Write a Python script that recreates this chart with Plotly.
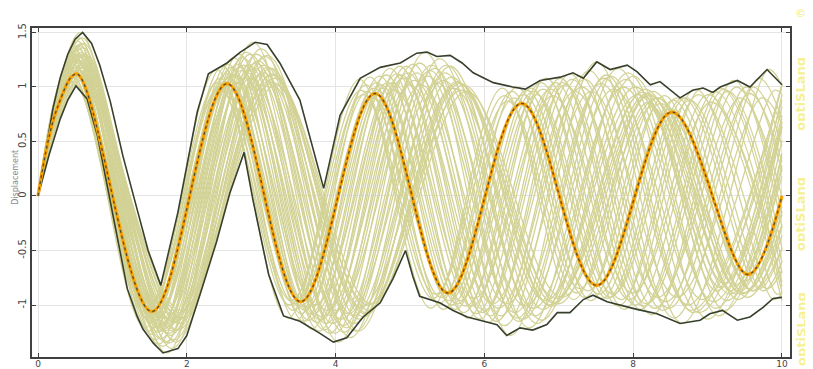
import plotly.graph_objects as go

# ---------------- axis ticks ----------------
x_ticks = [0, 2, 4, 6, 8, 10]
y_ticks = [-1, -0.5, 0, 0.5, 1, 1.5]
y_tick_text = ["-1", "-0.5", "0", "0.5", "1", "1.5"]

# ---------------- sampled designs (time, displacement at start/extrema/end) ----------------
d01_t = [0, 0.24, 0.48, 1.44, 2.40, 3.36, 4.32, 5.28, 6.24, 7.20, 8.16, 9.12, 10]
d01_y = [0, 0.89, 1.26, -1.21, 1.16, -1.12, 1.07, -1.03, 0.99, -0.95, 0.91, -0.87, 0.82]
d02_t = [0, 0.24, 0.49, 1.46, 2.43, 3.40, 4.37, 5.34, 6.31, 7.28, 8.25, 9.22, 10]
d02_y = [0, 0.74, 1.05, -1.02, 0.99, -0.96, 0.93, -0.90, 0.87, -0.85, 0.82, -0.80, 0.64]
d03_t = [0, 0.25, 0.49, 1.47, 2.45, 3.43, 4.41, 5.39, 6.37, 7.35, 8.33, 9.31, 10]
d03_y = [0, 0.81, 1.15, -1.12, 1.08, -1.05, 1.02, -0.99, 0.96, -0.93, 0.90, -0.87, 0.51]
d04_t = [0, 0.25, 0.50, 1.49, 2.48, 3.47, 4.46, 5.45, 6.44, 7.43, 8.42, 9.41, 10]
d04_y = [0, 0.92, 1.30, -1.24, 1.19, -1.14, 1.09, -1.04, 1.00, -0.96, 0.92, -0.87, 0.26]
d05_t = [0, 0.25, 0.5, 1.5, 2.5, 3.5, 4.5, 5.5, 6.5, 7.5, 8.5, 9.5, 10]
d05_y = [0, 0.72, 1.02, -0.99, 0.96, -0.93, 0.90, -0.88, 0.85, -0.82, 0.80, -0.78, 0]
d06_t = [0, 0.25, 0.51, 1.52, 2.53, 3.54, 4.55, 5.56, 6.57, 7.58, 8.59, 9.60, 10]
d06_y = [0, 0.85, 1.20, -1.16, 1.12, -1.08, 1.04, -1.00, 0.97, -0.94, 0.90, -0.87, -0.28]
d07_t = [0, 0.26, 0.51, 1.53, 2.55, 3.57, 4.59, 5.61, 6.63, 7.65, 8.67, 9.69, 10]
d07_y = [0, 0.95, 1.34, -1.27, 1.21, -1.15, 1.10, -1.04, 0.99, -0.94, 0.90, -0.85, -0.48]
d08_t = [0, 0.26, 0.52, 1.55, 2.58, 3.61, 4.64, 5.67, 6.70, 7.73, 8.76, 9.79, 10]
d08_y = [0, 0.79, 1.12, -1.09, 1.05, -1.02, 0.99, -0.96, 0.93, -0.90, 0.88, -0.85, -0.68]
d09_t = [0, 0.26, 0.52, 1.56, 2.60, 3.64, 4.68, 5.72, 6.76, 7.80, 8.84, 9.88, 10]
d09_y = [0, 0.88, 1.25, -1.21, 1.18, -1.14, 1.11, -1.07, 1.04, -1.01, 0.98, -0.95, -0.89]
d10_t = [0, 0.26, 0.53, 1.58, 2.63, 3.68, 4.73, 5.78, 6.83, 7.88, 8.93, 10]
d10_y = [0, 0.98, 1.38, -1.32, 1.27, -1.22, 1.17, -1.12, 1.08, -1.04, 0.99, -0.96]
d11_t = [0, 0.27, 0.53, 1.59, 2.65, 3.71, 4.77, 5.83, 6.89, 7.95, 9.01, 10]
d11_y = [0, 0.83, 1.18, -1.14, 1.11, -1.08, 1.04, -1.01, 0.98, -0.95, 0.93, -0.88]
d12_t = [0, 0.27, 0.54, 1.61, 2.68, 3.75, 4.82, 5.89, 6.96, 8.03, 9.10, 10]
d12_y = [0, 0.92, 1.30, -1.25, 1.21, -1.16, 1.12, -1.08, 1.04, -1.00, 0.96, -0.83]
d13_t = [0, 0.27, 0.54, 1.62, 2.70, 3.78, 4.86, 5.94, 7.02, 8.10, 9.18, 10]
d13_y = [0, 1.00, 1.42, -1.36, 1.30, -1.24, 1.19, -1.13, 1.08, -1.04, 0.99, -0.71]
d14_t = [0, 0.27, 0.55, 1.64, 2.73, 3.82, 4.91, 6.00, 7.09, 8.18, 9.27, 10]
d14_y = [0, 0.86, 1.22, -1.18, 1.15, -1.11, 1.08, -1.05, 1.02, -0.99, 0.96, -0.48]
d15_t = [0, 0.28, 0.55, 1.65, 2.75, 3.85, 4.95, 6.05, 7.15, 8.25, 9.35, 10]
d15_y = [0, 0.95, 1.35, -1.31, 1.27, -1.23, 1.19, -1.16, 1.12, -1.09, 1.06, -0.29]
d16_t = [0, 0.28, 0.56, 1.67, 2.78, 3.89, 5.00, 6.11, 7.22, 8.33, 9.44, 10]
d16_y = [0, 0.81, 1.15, -1.12, 1.08, -1.05, 1.02, -0.99, 0.96, -0.93, 0.90, -0.01]
d17_t = [0, 0.28, 0.56, 1.68, 2.80, 3.92, 5.04, 6.16, 7.28, 8.40, 9.52, 10]
d17_y = [0, 1.03, 1.45, -1.38, 1.32, -1.26, 1.21, -1.15, 1.10, -1.05, 1.00, 0.22]
d18_t = [0, 0.28, 0.57, 1.70, 2.83, 3.96, 5.09, 6.22, 7.35, 8.48, 9.61, 10]
d18_y = [0, 0.90, 1.28, -1.24, 1.20, -1.17, 1.13, -1.10, 1.07, -1.03, 1.00, 0.46]
d19_t = [0, 0.29, 0.57, 1.71, 2.85, 3.99, 5.13, 6.27, 7.41, 8.55, 9.69, 10]
d19_y = [0, 0.98, 1.38, -1.34, 1.30, -1.26, 1.22, -1.19, 1.15, -1.12, 1.08, 0.70]
d20_t = [0, 0.29, 0.58, 1.73, 2.89, 4.04, 5.20, 6.35, 7.51, 8.66, 9.82, 10]
d20_y = [0, 1.06, 1.50, -1.44, 1.41, -1.34, 1.32, -1.28, 1.23, -1.17, 1.16, 1.01]
d21_t = [0, 0.29, 0.58, 1.75, 2.91, 4.08, 5.24, 6.41, 7.57, 8.74, 9.90, 10]
d21_y = [0, 0.88, 1.24, -1.20, 1.17, -1.13, 1.10, -1.07, 1.03, -1.00, 0.97, 0.93]
d22_t = [0, 0.29, 0.59, 1.76, 2.94, 4.11, 5.29, 6.46, 7.64, 8.81, 10]
d22_y = [0, 0.99, 1.40, -1.35, 1.30, -1.25, 1.20, -1.15, 1.11, -1.07, 1.03]
d23_t = [0, 0.30, 0.59, 1.78, 2.96, 4.15, 5.33, 6.52, 7.70, 8.89, 10]
d23_y = [0, 0.93, 1.32, -1.28, 1.24, -1.21, 1.17, -1.13, 1.10, -1.07, 1.02]
d24_t = [0, 0.30, 0.60, 1.80, 3.00, 4.20, 5.40, 6.60, 7.80, 9.00, 10]
d24_y = [0, 1.03, 1.45, -1.40, 1.35, -1.30, 1.26, -1.21, 1.17, -1.13, 0.93]
d25_t = [0, 0.30, 0.61, 1.82, 3.03, 4.24, 5.45, 6.66, 7.87, 9.08, 10]
d25_y = [0, 0.85, 1.20, -1.16, 1.13, -1.10, 1.06, -1.03, 1.00, -0.97, 0.69]
d26_t = [0, 0.31, 0.61, 1.83, 3.05, 4.27, 5.49, 6.71, 7.93, 9.15, 10]
d26_y = [0, 0.96, 1.36, -1.32, 1.28, -1.24, 1.20, -1.17, 1.13, -1.10, 0.63]
d27_t = [0, 0.31, 0.62, 1.85, 3.08, 4.31, 5.54, 6.77, 8.00, 9.23, 10]
d27_y = [0, 0.99, 1.40, -1.34, 1.29, -1.24, 1.19, -1.14, 1.10, -1.05, 0.39]
d28_t = [0, 0.31, 0.62, 1.85, 3.09, 4.32, 5.56, 6.79, 8.03, 9.26, 10]
d28_y = [0, 0.91, 1.28, -1.23, 1.18, -1.13, 1.09, -1.04, 1.00, -0.96, 0.28]
d29_t = [0, 0.31, 0.63, 1.88, 3.13, 4.38, 5.63, 6.88, 8.13, 9.38, 10]
d29_y = [0, 0.92, 1.30, -1.23, 1.17, -1.11, 1.05, -1.00, 0.95, -0.90, 0.0]
d30_t = [0, 0.32, 0.63, 1.89, 3.15, 4.41, 5.67, 6.93, 8.19, 9.45, 10]
d30_y = [0, 0.86, 1.22, -1.17, 1.12, -1.07, 1.03, -0.98, 0.94, -0.90, -0.17]
d31_t = [0, 0.32, 0.64, 1.91, 3.18, 4.45, 5.72, 6.99, 8.26, 9.53, 10]
d31_y = [0, 0.81, 1.15, -1.12, 1.08, -1.05, 1.02, -0.99, 0.96, -0.93, -0.36]
d32_t = [0, 0.32, 0.64, 1.92, 3.20, 4.48, 5.76, 7.04, 8.32, 9.60, 10]
d32_y = [0, 0.76, 1.08, -1.05, 1.02, -0.99, 0.96, -0.93, 0.90, -0.87, -0.48]
e01_t = [0, 0.24, 0.48, 1.45, 2.41, 3.38, 4.34, 5.31, 6.27, 7.24, 8.20, 9.17, 10]
e01_y = [0, 0.78, 1.10, -1.07, 1.04, -1.00, 0.97, -0.94, 0.92, -0.89, 0.86, -0.84, 0.74]
e02_t = [0, 0.25, 0.49, 1.48, 2.46, 3.45, 4.43, 5.42, 6.40, 7.39, 8.37, 9.36, 10]
e02_y = [0, 0.76, 1.08, -1.05, 1.02, -0.99, 0.96, -0.93, 0.90, -0.87, 0.85, -0.82, 0.36]
e03_t = [0, 0.25, 0.50, 1.51, 2.51, 3.52, 4.52, 5.53, 6.53, 7.54, 8.54, 9.55, 10]
e03_y = [0, 0.79, 1.12, -1.09, 1.05, -1.02, 0.99, -0.96, 0.93, -0.90, 0.88, -0.85, -0.14]
e04_t = [0, 0.26, 0.51, 1.54, 2.56, 3.59, 4.61, 5.64, 6.66, 7.69, 8.71, 9.74, 10]
e04_y = [0, 0.81, 1.15, -1.12, 1.08, -1.05, 1.02, -0.99, 0.96, -0.93, 0.90, -0.87, -0.60]
e05_t = [0, 0.26, 0.52, 1.57, 2.61, 3.66, 4.70, 5.75, 6.79, 7.84, 8.88, 9.93, 10]
e05_y = [0, 0.83, 1.18, -1.14, 1.11, -1.08, 1.04, -1.01, 0.98, -0.95, 0.93, -0.90, -0.88]
e06_t = [0, 0.27, 0.53, 1.60, 2.66, 3.73, 4.79, 5.86, 6.92, 7.99, 9.05, 10]
e06_y = [0, 0.78, 1.10, -1.07, 1.04, -1.00, 0.97, -0.94, 0.92, -0.89, 0.86, -0.79]
e07_t = [0, 0.27, 0.54, 1.63, 2.71, 3.80, 4.88, 5.97, 7.05, 8.14, 9.22, 10]
e07_y = [0, 0.88, 1.25, -1.21, 1.18, -1.14, 1.11, -1.07, 1.04, -1.01, 0.98, -0.61]
e08_t = [0, 0.28, 0.55, 1.66, 2.76, 3.87, 4.97, 6.08, 7.18, 8.29, 9.39, 10]
e08_y = [0, 0.90, 1.28, -1.24, 1.20, -1.17, 1.13, -1.10, 1.07, -1.03, 1.00, -0.16]
e09_t = [0, 0.28, 0.56, 1.69, 2.81, 3.94, 5.06, 6.19, 7.31, 8.44, 9.56, 10]
e09_y = [0, 0.85, 1.20, -1.16, 1.13, -1.10, 1.06, -1.03, 1.00, -0.97, 0.94, 0.31]
e10_t = [0, 0.29, 0.57, 1.72, 2.86, 4.01, 5.15, 6.30, 7.44, 8.59, 9.73, 10]
e10_y = [0, 0.81, 1.15, -1.12, 1.08, -1.05, 1.02, -0.99, 0.96, -0.93, 0.90, 0.66]
e11_t = [0, 0.29, 0.59, 1.76, 2.93, 4.10, 5.27, 6.44, 7.61, 8.78, 10]
e11_y = [0, 0.92, 1.30, -1.26, 1.22, -1.19, 1.15, -1.12, 1.08, -1.05, 1.02]
e12_t = [0, 0.30, 0.60, 1.79, 2.98, 4.17, 5.36, 6.55, 7.74, 8.93, 10]
e12_y = [0, 0.83, 1.18, -1.14, 1.11, -1.08, 1.04, -1.01, 0.98, -0.95, 0.88]
e13_t = [0, 0.30, 0.61, 1.82, 3.04, 4.25, 5.47, 6.68, 7.90, 9.11, 10]
e13_y = [0, 0.90, 1.28, -1.24, 1.20, -1.17, 1.13, -1.10, 1.07, -1.03, 0.67]
e14_t = [0, 0.31, 0.62, 1.86, 3.10, 4.34, 5.58, 6.82, 8.06, 9.30, 10]
e14_y = [0, 0.79, 1.12, -1.09, 1.05, -1.02, 0.99, -0.96, 0.93, -0.90, 0.18]
e15_t = [0, 0.31, 0.63, 1.88, 3.14, 4.39, 5.65, 6.90, 8.16, 9.41, 10]
e15_y = [0, 0.83, 1.18, -1.14, 1.11, -1.08, 1.04, -1.01, 0.98, -0.95, -0.09]
e16_t = [0, 0.32, 0.63, 1.90, 3.16, 4.43, 5.69, 6.96, 8.22, 9.49, 10]
e16_y = [0, 0.78, 1.10, -1.07, 1.04, -1.00, 0.97, -0.94, 0.92, -0.89, -0.26]

# ---------------- highlighted design ----------------
best_t = [0, 0.25, 0.52, 1.53, 2.54, 3.53, 4.53, 5.51, 6.5, 7.51, 8.52, 9.54, 10]
best_y = [0, 0.79, 1.12, -1.06, 1.03, -0.97, 0.94, -0.89, 0.85, -0.82, 0.77, -0.72, 0]

# ---------------- envelopes (max / min over all designs) ----------------
upper_t = [0, 0.1, 0.2, 0.3, 0.4, 0.5, 0.6, 0.72, 0.83, 0.97, 1.14, 1.28, 1.48, 1.65, 1.88,
           2.14, 2.29, 2.54, 2.72, 2.92, 3.08, 3.25, 3.52, 3.84, 4.06, 4.33, 4.6, 4.87, 5.09,
           5.23, 5.36, 5.54, 5.7, 5.85, 6.12, 6.38, 6.55, 6.75, 7.02, 7.19, 7.33, 7.51, 7.69,
           7.92, 8.05, 8.23, 8.36, 8.63, 8.8, 8.94, 9.07, 9.17, 9.4, 9.57, 9.8, 10]
upper_y = [0, 0.42, 0.8, 1.09, 1.3, 1.44, 1.5, 1.40, 1.20, 0.87, 0.37, 0.01, -0.5, -0.82, -0.15,
           0.77, 1.12, 1.22, 1.32, 1.41, 1.39, 1.22, 0.88, 0.07, 0.74, 1.08, 1.18, 1.22, 1.31,
           1.32, 1.28, 1.29, 1.22, 1.13, 1.04, 1.0, 0.98, 1.06, 1.09, 1.13, 1.08, 1.23, 1.16,
           1.2, 1.14, 1.02, 1.05, 0.9, 0.97, 0.99, 0.95, 1.0, 1.06, 1.0, 1.16, 1.02]
lower_t = [0, 0.15, 0.3, 0.4, 0.51, 0.66, 0.8, 0.97, 1.1, 1.2, 1.33, 1.41, 1.55, 1.68, 1.88,
           2.0, 2.18, 2.4, 2.58, 2.77, 2.89, 3.1, 3.3, 3.52, 3.79, 3.97, 4.15, 4.37, 4.6, 4.77,
           4.94, 5.04, 5.13, 5.4, 5.58, 5.77, 5.94, 6.17, 6.3, 6.48, 6.65, 6.84, 6.98, 7.15,
           7.33, 7.46, 7.65, 7.82, 8.05, 8.32, 8.63, 8.9, 9.03, 9.2, 9.4, 9.57, 9.75, 9.88, 10]
lower_y = [0, 0.38, 0.71, 0.88, 1.01, 0.89, 0.55, -0.04, -0.5, -0.85, -1.1, -1.22, -1.35, -1.44,
           -1.40, -1.28, -0.9, -0.42, 0.03, 0.40, -0.04, -0.72, -1.1, -1.15, -1.26, -1.34, -1.3,
           -1.11, -0.98, -0.76, -0.5, -0.74, -0.92, -0.98, -1.05, -1.11, -1.14, -1.18, -1.28,
           -1.21, -1.23, -1.18, -1.07, -1.07, -0.95, -0.91, -0.97, -1.0, -1.04, -1.08, -1.17,
           -1.14, -1.08, -1.05, -1.14, -1.11, -1.02, -0.94, -0.93]

# ---------------- texts ----------------
y_title = "Displacement"
watermark_text = "optiSLang"
watermark_y = [0.80, 0.435, 0.085]

designs = [
    (d01_t, d01_y), (d02_t, d02_y), (d03_t, d03_y), (d04_t, d04_y), (d05_t, d05_y),
    (d06_t, d06_y), (d07_t, d07_y), (d08_t, d08_y), (d09_t, d09_y), (d10_t, d10_y),
    (d11_t, d11_y), (d12_t, d12_y), (d13_t, d13_y), (d14_t, d14_y), (d15_t, d15_y),
    (d16_t, d16_y), (d17_t, d17_y), (d18_t, d18_y), (d19_t, d19_y), (d20_t, d20_y),
    (d21_t, d21_y), (d22_t, d22_y), (d23_t, d23_y), (d24_t, d24_y), (d25_t, d25_y),
    (d26_t, d26_y), (d27_t, d27_y), (d28_t, d28_y), (d29_t, d29_y), (d30_t, d30_y),
    (d31_t, d31_y), (d32_t, d32_y),
    (e01_t, e01_y), (e02_t, e02_y), (e03_t, e03_y), (e04_t, e04_y), (e05_t, e05_y),
    (e06_t, e06_y), (e07_t, e07_y), (e08_t, e08_y), (e09_t, e09_y), (e10_t, e10_y),
    (e11_t, e11_y), (e12_t, e12_y), (e13_t, e13_y), (e14_t, e14_y), (e15_t, e15_y),
    (e16_t, e16_y),
]

fig = go.Figure()

for t, y in designs:
    fig.add_trace(go.Scatter(
        x=t, y=y, mode="lines",
        line=dict(color="rgb(210,210,150)", width=1.3, shape="spline", smoothing=1.0),
        hoverinfo="skip", showlegend=False))

for t, y in [(upper_t, upper_y), (lower_t, lower_y)]:
    fig.add_trace(go.Scatter(
        x=t, y=y, mode="lines",
        line=dict(color="#37402c", width=1.6),
        hoverinfo="skip", showlegend=False))

fig.add_trace(go.Scatter(
    x=best_t, y=best_y, mode="lines",
    line=dict(color="#f5a000", width=3.2, shape="spline", smoothing=1.0),
    hoverinfo="skip", showlegend=False))
fig.add_trace(go.Scatter(
    x=best_t, y=best_y, mode="lines",
    line=dict(color="#5a4a22", width=1.3, dash="dot", shape="spline", smoothing=1.0),
    hoverinfo="skip", showlegend=False))

axis_common = dict(
    showline=True, linecolor="#404040", linewidth=1.5, mirror="ticks",
    ticks="inside", ticklen=4, tickcolor="#404040", tickwidth=1,
    showgrid=True, gridcolor="#e4e4e4", gridwidth=1, zeroline=False,
    automargin=False,
)

fig.update_xaxes(range=[-0.081, 10.108], tickvals=x_ticks,
                 ticktext=[str(v) for v in x_ticks], ticklabelstandoff=-3,
                 tickfont=dict(family="DejaVu Sans", size=9, color="#444444"),
                 **axis_common)
fig.update_yaxes(range=[-1.477, 1.541], tickvals=y_ticks, ticktext=y_tick_text,
                 tickangle=-90,
                 tickfont=dict(family="DejaVu Sans", size=10, color="#444444"),
                 **axis_common)

annotations = [dict(
    text=y_title, xref="paper", yref="paper", x=-0.021, y=0.545,
    textangle=-90, showarrow=False, xanchor="center", yanchor="middle",
    font=dict(family="DejaVu Sans", size=8, color="#8a8a8a"))]
for wy in watermark_y:
    annotations.append(dict(
        text="<b>%s</b>" % watermark_text, xref="paper", yref="paper",
        x=1.0145, y=wy, textangle=-90, showarrow=False,
        xanchor="center", yanchor="middle",
        font=dict(family="DejaVu Sans", size=13, color="#f6f196")))
annotations.append(dict(
    text="<b>©</b>", xref="paper", yref="paper", x=1.0145, y=1.045,
    showarrow=False, xanchor="center", yanchor="middle",
    font=dict(family="DejaVu Sans", size=11, color="#f6f196")))

# the page body has an 8px margin, so the figure is sized to fit the 813x369 window
fig.update_layout(
    width=805, height=361, autosize=False,
    margin=dict(l=24, r=23, t=20, b=12, pad=0),
    paper_bgcolor="white", plot_bgcolor="white",
    showlegend=False, annotations=annotations,
)

fig.write_html("out.html")
